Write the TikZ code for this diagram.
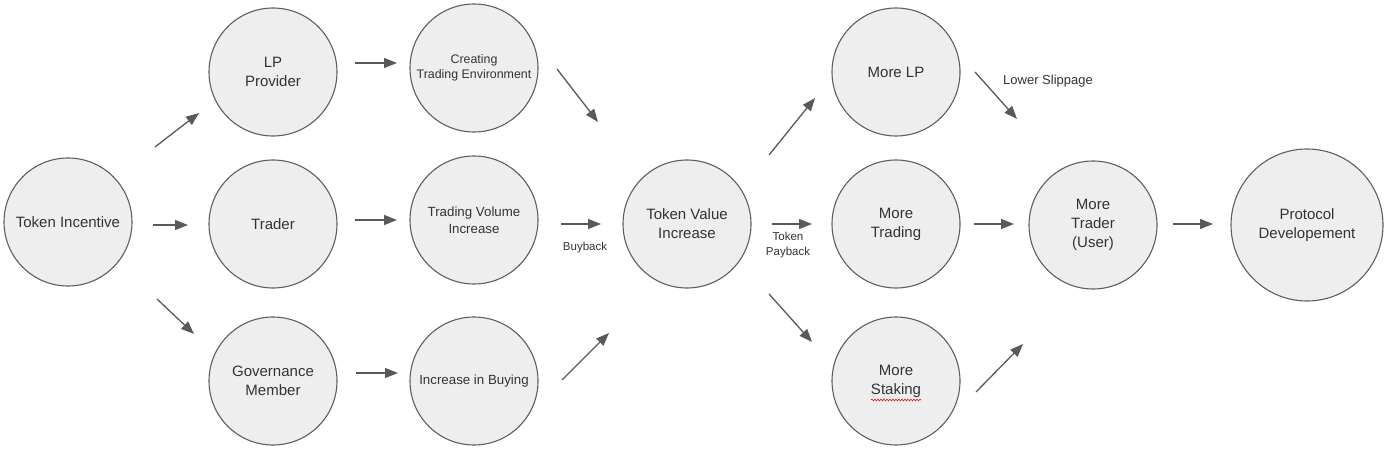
\documentclass[tikz,border=0pt]{standalone}
\usepackage{fontspec}
\setmainfont{Liberation Sans}
\usetikzlibrary{arrows.meta,decorations.pathmorphing}
\definecolor{circfill}{HTML}{EEEEEE}
\definecolor{circline}{HTML}{5F5F5F}
\definecolor{arrowcol}{HTML}{595959}
\definecolor{txtcol}{HTML}{333333}
\tikzset{
  bubble/.style={circle, draw=circline, fill=circfill, line width=1.1pt, minimum size=128pt, inner sep=0pt, align=center, text=txtcol, font=\fontsize{15}{19}\selectfont},
  bigbubble/.style={bubble, minimum size=152pt},
  flow/.style={draw=arrowcol, line width=1.3pt, -{Triangle[length=13pt,width=10pt]}},
  lbl/.style={text=txtcol, align=center, inner sep=0pt},
}
\begin{document}
\begin{tikzpicture}[x=1pt,y=-1pt]
\useasboundingbox (0,0) rectangle (1386,449);
% nodes
\node[bubble] (ti) at (68,222) {Token Incentive};
\node[bubble] (lp) at (273,72) {LP\\Provider};
\node[bubble] (tr) at (273,224) {Trader};
\node[bubble] (gov) at (273,381) {Governance\\Member};
\node[bubble, font=\fontsize{12.4}{14.5}\selectfont] (cte) at (474,68) {Creating\\Trading Environment};
\node[bubble, font=\fontsize{13.3}{16.7}\selectfont] (tvi) at (474,220) {Trading Volume\\Increase};
\node[bubble, font=\fontsize{13.3}{16.7}\selectfont] (iib) at (474,381) {Increase in Buying};
\node[bubble] (tv) at (687,224) {Token Value\\Increase};
\node[bubble] (mlp) at (896,72) {More LP};
\node[bubble] (mt) at (896,224) {More\\Trading};
\node[bubble] (ms) at (896,381) {More\\Staking};
\node[bubble] (mtr) at (1093,225) {More\\Trader\\(User)};
\node[bigbubble] (pd) at (1307,225) {Protocol\\Developement};
% spell-check squiggle under Staking
\draw[red, line width=0.6pt, decoration={snake, amplitude=0.8pt, segment length=3pt}, decorate] (871,400) -- (921,400);
% arrow end points
\coordinate (a1s) at (155,147); \coordinate (a1e) at (199,113);
\coordinate (a2s) at (153,225); \coordinate (a2e) at (188,225);
\coordinate (a3s) at (157,299); \coordinate (a3e) at (194,334);
\coordinate (a4s) at (355,63);  \coordinate (a4e) at (397,63);
\coordinate (a5s) at (355,220); \coordinate (a5e) at (397,220);
\coordinate (a6s) at (356,373); \coordinate (a6e) at (398,373);
\coordinate (a7s) at (557,69);  \coordinate (a7e) at (598,122);
\coordinate (a8s) at (561,224); \coordinate (a8e) at (601,224);
\coordinate (a9s) at (562,380); \coordinate (a9e) at (609,333);
\coordinate (b1s) at (769,155); \coordinate (b1e) at (815,98);
\coordinate (b2s) at (772,224); \coordinate (b2e) at (812,224);
\coordinate (b3s) at (769,294); \coordinate (b3e) at (812,342);
\coordinate (b4s) at (975,72);  \coordinate (b4e) at (1017,119);
\coordinate (b5s) at (974,224); \coordinate (b5e) at (1014,224);
\coordinate (b6s) at (976,392); \coordinate (b6e) at (1023,344);
\coordinate (b7s) at (1173,224); \coordinate (b7e) at (1213,224);
\foreach \a in {a1,a2,a3,a4,a5,a6,a7,a8,a9,b1,b2,b3,b4,b5,b6,b7}
  \draw[flow] (\a s) -- (\a e);
% labels
\node[lbl, font=\fontsize{11.5}{15}\selectfont] (buyback) at (585,248) {Buyback};
\node[lbl, font=\fontsize{11.5}{15}\selectfont] (payback) at (788,245.5) {Token\\Payback};
\node[lbl, anchor=west, font=\fontsize{13}{16}\selectfont] (slip) at (1003,81) {Lower Slippage};
\end{tikzpicture}
\end{document}
